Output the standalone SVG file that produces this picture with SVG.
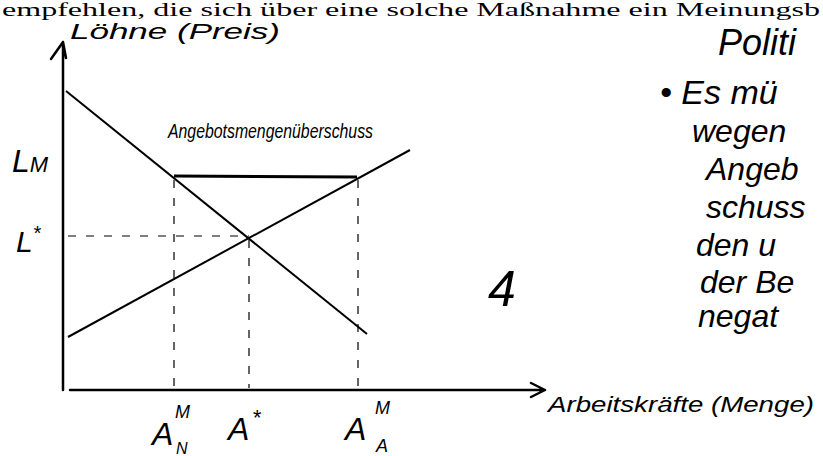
<svg xmlns="http://www.w3.org/2000/svg" width="823" height="456" viewBox="0 0 823 456">
<style>
.hw{font-family:"Liberation Sans","DejaVu Sans",sans-serif;font-style:italic;fill:#000}
.pr{font-family:"Liberation Serif","Times New Roman",serif;fill:#000}
.ax{stroke:#000;stroke-width:2.5;fill:none;stroke-linecap:round;stroke-linejoin:round}
.cv{stroke:#000;stroke-width:2;fill:none}
.ds{stroke:#000;stroke-width:1.2;fill:none;stroke-dasharray:8 10}
</style>
<rect width="823" height="456" fill="#fff"/>
<text class="pr" x="2" y="16" font-size="18" textLength="818" lengthAdjust="spacingAndGlyphs">empfehlen, die sich über eine solche Maßnahme ein Meinungsb</text>
<g id="connectors">
<path id="y-axis" class="ax" d="M63,390 L63,42 M51,59 L63,42 L66,58"/>
<path id="x-axis" class="ax" d="M70,390 L545,390 M531,383 L545,390 L531,397"/>
<line id="demand" class="cv" x1="66" y1="91" x2="367" y2="334"/>
<line id="supply" class="cv" x1="68" y1="337" x2="410" y2="150"/>
<line id="min-wage" x1="174" y1="176" x2="357" y2="177" stroke="#000" stroke-width="3"/>
<line id="l-star" class="ds" x1="68" y1="236" x2="249" y2="236"/>
<line class="ds" x1="174" y1="180" x2="174" y2="388"/>
<line class="ds" x1="249" y1="240" x2="249" y2="388"/>
<line class="ds" x1="358" y1="180" x2="358" y2="388"/>
</g>
<g id="label-y"><text class="hw" x="70" y="39" font-size="22" textLength="210" lengthAdjust="spacingAndGlyphs">Löhne (Preis)</text></g>
<g id="label-surplus"><text class="hw" x="168" y="138" font-size="20" textLength="205" lengthAdjust="spacingAndGlyphs">Angebotsmengenüberschuss</text></g>
<g id="label-LM"><text class="hw" x="12" y="172" font-size="32">L<tspan font-size="22">M</tspan></text></g>
<g id="label-Lstar"><text class="hw" x="16" y="252" font-size="30">L<tspan font-size="20" dy="-12">*</tspan></text></g>
<g id="label-ANM"><text class="hw" x="152" y="445" font-size="32">A</text><text class="hw" x="175" y="418" font-size="18">M</text><text class="hw" x="176" y="454" font-size="16">N</text></g>
<g id="label-Astar"><text class="hw" x="228" y="440" font-size="32">A</text><text class="hw" x="252" y="425" font-size="22">*</text></g>
<g id="label-AAM"><text class="hw" x="345" y="440" font-size="32">A</text><text class="hw" x="375" y="414" font-size="18">M</text><text class="hw" x="376" y="452" font-size="18">A</text></g>
<g id="label-4"><text class="hw" x="488" y="306" font-size="50" font-style="normal">4</text></g>
<g id="label-x"><text class="hw" x="548" y="412" font-size="22" textLength="266" lengthAdjust="spacingAndGlyphs">Arbeitskräfte (Menge)</text></g>
<g id="notes">
<text class="hw" x="718" y="55" font-size="36">Politi</text>
<text class="hw" x="660" y="104" font-size="34">• Es mü</text>
<text class="hw" x="692" y="142" font-size="32">wegen</text>
<text class="hw" x="706" y="180" font-size="32">Angeb</text>
<text class="hw" x="706" y="218" font-size="32">schuss</text>
<text class="hw" x="696" y="256" font-size="32">den u</text>
<text class="hw" x="700" y="293" font-size="32">der Be</text>
<text class="hw" x="698" y="327" font-size="32">negat</text>
</g>
</svg>
